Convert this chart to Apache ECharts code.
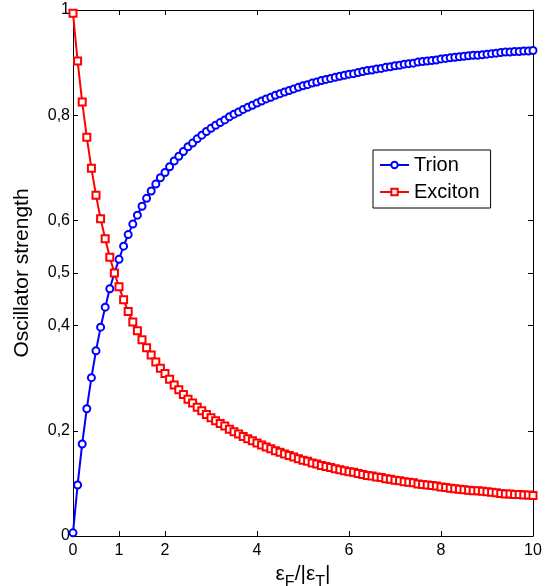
<!DOCTYPE html>
<html>
<head>
<meta charset="utf-8">
<script src="https://cdn.jsdelivr.net/npm/echarts@6/dist/echarts.min.js"></script>
<style>
html,body{margin:0;padding:0;background:#fff;}
#chart{width:550px;height:586px;}
</style>
</head>
<body>
<div id="chart"></div>
<script>
const xValues = [
0,0.1,0.2,0.3,0.4,0.5,0.6,0.7,0.8,0.9,
1,1.1,1.2,1.3,1.4,1.5,1.6,1.7,1.8,1.9,
2,2.1,2.2,2.3,2.4,2.5,2.6,2.7,2.8,2.9,
3,3.1,3.2,3.3,3.4,3.5,3.6,3.7,3.8,3.9,
4,4.1,4.2,4.3,4.4,4.5,4.6,4.7,4.8,4.9,
5,5.1,5.2,5.3,5.4,5.5,5.6,5.7,5.8,5.9,
6,6.1,6.2,6.3,6.4,6.5,6.6,6.7,6.8,6.9,
7,7.1,7.2,7.3,7.4,7.5,7.6,7.7,7.8,7.9,
8,8.1,8.2,8.3,8.4,8.5,8.6,8.7,8.8,8.9,
9,9.1,9.2,9.3,9.4,9.5,9.6,9.7,9.8,9.9,
10];

const trion = [
0.006,0.097,0.175,0.242,0.301,0.352,0.397,0.435,0.470,0.500,
0.526,0.551,0.573,0.593,0.610,0.627,0.642,0.656,0.669,0.681,
0.691,0.702,0.713,0.722,0.731,0.740,0.747,0.755,0.762,0.769,
0.775,0.781,0.786,0.791,0.797,0.802,0.806,0.811,0.815,0.819,
0.823,0.827,0.831,0.834,0.838,0.841,0.844,0.847,0.850,0.853,
0.856,0.858,0.861,0.863,0.866,0.868,0.870,0.872,0.874,0.876,
0.878,0.879,0.881,0.883,0.885,0.886,0.888,0.889,0.891,0.892,
0.894,0.895,0.897,0.898,0.899,0.901,0.902,0.903,0.904,0.905,
0.907,0.908,0.909,0.910,0.911,0.912,0.913,0.914,0.914,0.915,
0.916,0.917,0.918,0.919,0.920,0.920,0.921,0.921,0.922,0.922,
0.923];

const exciton = [
0.994,0.903,0.825,0.758,0.699,0.648,0.603,0.565,0.530,0.500,
0.474,0.449,0.427,0.407,0.390,0.373,0.358,0.344,0.331,0.319,
0.309,0.298,0.287,0.278,0.269,0.260,0.253,0.245,0.238,0.231,
0.225,0.219,0.214,0.209,0.203,0.198,0.194,0.189,0.185,0.181,
0.177,0.173,0.169,0.166,0.162,0.159,0.156,0.153,0.150,0.147,
0.144,0.142,0.139,0.137,0.134,0.132,0.130,0.128,0.126,0.124,
0.122,0.121,0.119,0.117,0.115,0.114,0.112,0.111,0.109,0.108,
0.106,0.105,0.103,0.102,0.101,0.099,0.098,0.097,0.096,0.095,
0.093,0.092,0.091,0.090,0.089,0.088,0.087,0.086,0.086,0.085,
0.084,0.083,0.082,0.081,0.080,0.080,0.079,0.079,0.078,0.078,
0.077];

const xTicks = [0, 1, 2, 4, 6, 8, 10];
const yTicks = [0, 0.2, 0.4, 0.5, 0.6, 0.8, 1];
const seriesNames = ['Trion', 'Exciton'];
const yName = 'Oscillator strength';

const FONT = 'Liberation Sans, Arial, Helvetica, sans-serif';
const chart = echarts.init(document.getElementById('chart'), null, {renderer: 'canvas'});

const axisLineStyle = {color: '#000', width: 1};
function fmtY(v) { return String(+v.toFixed(2)).replace('.', ','); }

const option = {
  backgroundColor: '#fff',
  animation: false,
  textStyle: {fontFamily: FONT},
  grid: {left: 73, right: 17, top: 10, bottom: 50, containLabel: false, outerBoundsMode: 'none'},
  legend: {
    data: seriesNames,
    orient: 'vertical',
    left: 373,
    top: 150,
    padding: [5, 11, 6, 6],
    itemGap: 7,
    itemWidth: 29,
    itemHeight: 8,
    borderColor: '#000',
    borderWidth: 1,
    borderRadius: 0,
    backgroundColor: '#fff',
    textStyle: {fontSize: 20, lineHeight: 20, color: '#000', fontFamily: FONT}
  },
  xAxis: [{
    type: 'value', min: 0, max: 10, position: 'bottom',
    axisLine: {show: true, onZero: false, lineStyle: axisLineStyle},
    axisTick: {show: true, inside: true, length: 5, customValues: xTicks, lineStyle: axisLineStyle},
    axisLabel: {show: true, customValues: xTicks, margin: 7, fontSize: 16, color: '#000', fontFamily: FONT},
    splitLine: {show: false},
    name: '{e|ε}{s|F}{e|/|ε}{s|T}{e||}',
    nameLocation: 'middle',
    nameGap: 24,
    nameTextStyle: {
      fontFamily: FONT, color: '#000',
      rich: {
        e: {fontSize: 21, lineHeight: 24, verticalAlign: 'top', fontFamily: FONT, color: '#000'},
        s: {fontSize: 16, lineHeight: 16, padding: [11, 0, 0, 0], verticalAlign: 'top', fontFamily: FONT, color: '#000'}
      }
    }
  }, {
    type: 'value', min: 0, max: 10, position: 'top',
    axisLine: {show: true, onZero: false, lineStyle: axisLineStyle},
    axisTick: {show: true, inside: true, length: 5, customValues: xTicks, lineStyle: axisLineStyle},
    axisLabel: {show: false},
    splitLine: {show: false}
  }],
  yAxis: [{
    type: 'value', min: 0, max: 1, position: 'left',
    axisLine: {show: true, onZero: false, lineStyle: axisLineStyle},
    axisTick: {show: true, inside: true, length: 5, customValues: yTicks, lineStyle: axisLineStyle},
    axisLabel: {show: true, customValues: yTicks, margin: 3, fontSize: 16, color: '#000', fontFamily: FONT, formatter: fmtY},
    splitLine: {show: false},
    name: yName,
    nameLocation: 'middle',
    nameRotate: 90,
    nameGap: 40,
    nameTextStyle: {fontSize: 21, color: '#000', fontFamily: FONT}
  }, {
    type: 'value', min: 0, max: 1, position: 'right',
    axisLine: {show: true, onZero: false, lineStyle: axisLineStyle},
    axisTick: {show: true, inside: true, length: 5, customValues: yTicks, lineStyle: axisLineStyle},
    axisLabel: {show: false},
    splitLine: {show: false}
  }],
  series: [{
    name: seriesNames[0],
    type: 'line',
    xAxisIndex: 0, yAxisIndex: 0,
    data: xValues.map((x, i) => [x, trion[i]]),
    symbol: 'emptyCircle',
    symbolSize: 7,
    showAllSymbol: true,
    lineStyle: {color: '#0000ff', width: 2},
    itemStyle: {color: '#0000ff', borderColor: '#0000ff', borderWidth: 1.6},
    clip: false
  }, {
    name: seriesNames[1],
    type: 'line',
    xAxisIndex: 0, yAxisIndex: 0,
    data: xValues.map((x, i) => [x, exciton[i]]),
    symbol: 'emptyRect',
    symbolSize: 7,
    showAllSymbol: true,
    lineStyle: {color: '#ff0000', width: 2},
    itemStyle: {color: '#ff0000', borderColor: '#ff0000', borderWidth: 1.6},
    clip: false
  }]
};
chart.setOption(option);
</script>
</body>
</html>
